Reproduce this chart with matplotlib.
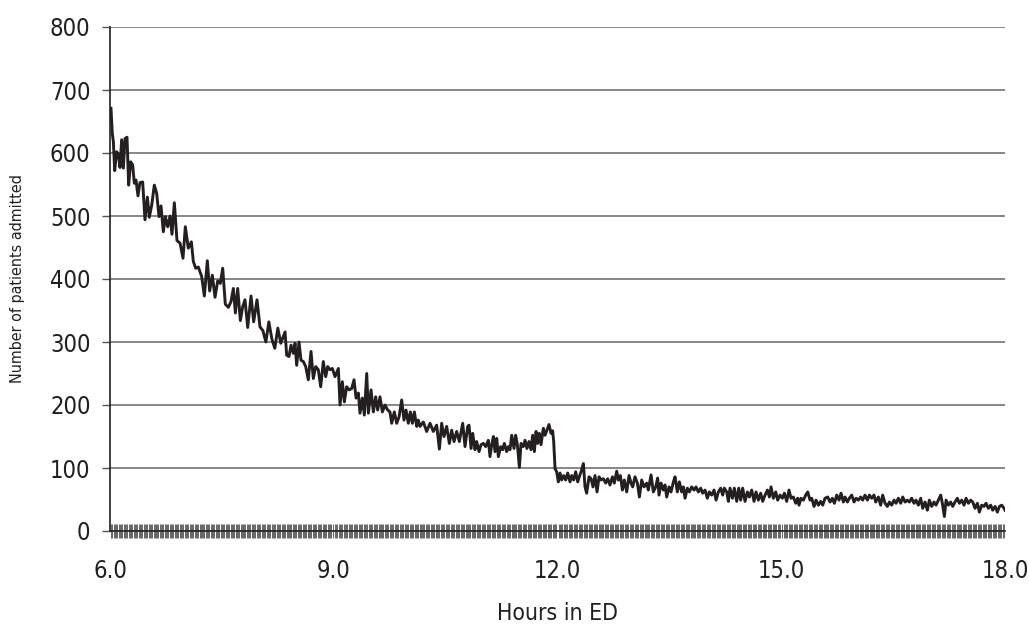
import numpy as np
import matplotlib
matplotlib.use("Agg")
import matplotlib.pyplot as plt
from matplotlib import font_manager

# ---- data (hours in ED, patients admitted) ----
hours_a = [6.013, 6.031, 6.045, 6.063, 6.089, 6.112, 6.134, 6.156, 6.179, 6.201,
           6.228, 6.250, 6.277, 6.304, 6.326, 6.349, 6.375, 6.402, 6.438, 6.469,
           6.501, 6.527, 6.559, 6.594, 6.626, 6.657, 6.684, 6.715, 6.742, 6.773,
           6.805, 6.831, 6.863, 6.898, 6.939, 6.979, 7.010, 7.050, 7.091, 7.117,
           7.149, 7.184, 7.229, 7.265, 7.305, 7.336, 7.372, 7.408, 7.444, 7.479,
           7.511, 7.546, 7.587, 7.622, 7.654, 7.681, 7.712, 7.748, 7.779, 7.810,
           7.846, 7.891, 7.926, 7.971, 8.011,
           8.05, 8.09, 8.13, 8.17, 8.21, 8.25, 8.29]
admitted_a = [671, 631, 618, 572, 602, 598, 577, 621, 576, 623,
              625, 549, 586, 581, 552, 557, 532, 553, 554, 494,
              530, 498, 517, 549, 536, 499, 516, 475, 499, 483,
              500, 471, 521, 461, 457, 433, 483, 449, 459, 428,
              417, 419, 404, 373, 429, 381, 406, 371, 397, 393,
              417, 360, 355, 364, 385, 346, 385, 334, 356, 367,
              323, 373, 332, 367, 324,
              318, 300, 332, 305, 290, 322, 298]

hours_b = [8.347, 8.369, 8.400, 8.427, 8.458, 8.481, 8.503, 8.534, 8.561, 8.592,
           8.624, 8.659, 8.695, 8.726, 8.758, 8.793, 8.825, 8.860, 8.892, 8.919,
           8.950, 8.981, 9.017, 9.062, 9.084, 9.115, 9.142, 9.173, 9.205, 9.240,
           9.272, 9.299, 9.330, 9.352, 9.383, 9.410, 9.442, 9.464, 9.500, 9.531,
           9.562, 9.589, 9.620, 9.652, 9.687, 9.723, 9.754, 9.777, 9.812, 9.844,
           9.875, 9.911, 9.942, 9.969, 10.000, 10.027, 10.054, 10.081, 10.112, 10.134,
           10.157, 10.201, 10.246, 10.291, 10.335, 10.380, 10.416, 10.447, 10.478, 10.514,
           10.550, 10.581, 10.613, 10.648, 10.684, 10.729]
admitted_b = [316, 279, 277, 295, 282, 298, 263, 300, 271, 269,
              261, 240, 285, 242, 261, 256, 229, 269, 245, 261,
              256, 258, 245, 258, 200, 237, 205, 229, 224, 226,
              240, 211, 219, 187, 211, 184, 250, 187, 224, 189,
              213, 192, 213, 189, 200, 192, 189, 171, 189, 171,
              181, 208, 176, 192, 171, 189, 171, 189, 166, 176,
              166, 173, 158, 171, 158, 168, 130, 171, 150, 166,
              139, 160, 142, 158, 142, 171]

hours_c = [10.760, 10.796, 10.814, 10.841, 10.863, 10.894, 10.916, 10.948, 10.975, 11.006,
           11.037, 11.073, 11.095, 11.118, 11.140, 11.162, 11.185, 11.207, 11.238, 11.265,
           11.287, 11.319, 11.341, 11.363, 11.386, 11.417, 11.439, 11.462, 11.489, 11.511,
           11.542, 11.565, 11.591, 11.618, 11.645, 11.667, 11.690, 11.712, 11.734, 11.757,
           11.779, 11.810, 11.833, 11.855, 11.886, 11.913, 11.935, 11.949, 11.967, 11.989,
           12.011, 12.034, 12.056, 12.083, 12.110, 12.137, 12.168, 12.190, 12.217, 12.244,
           12.271, 12.298, 12.324, 12.347, 12.369, 12.391, 12.423, 12.450, 12.476, 12.503,
           12.530, 12.557, 12.584, 12.615, 12.646, 12.673, 12.704, 12.736, 12.762, 12.794,
           12.816, 12.843, 12.870, 12.896, 12.928, 12.959, 12.986, 13.008, 13.039, 13.071,
           13.098, 13.129, 13.160, 13.196, 13.218]
admitted_c = [134, 166, 168, 131, 155, 129, 142, 126, 137, 139,
              134, 144, 118, 137, 150, 126, 147, 118, 134, 129,
              139, 126, 134, 129, 152, 131, 152, 137, 101, 139,
              134, 144, 131, 142, 129, 152, 126, 158, 139, 155,
              137, 163, 152, 159, 169, 155, 159, 142, 99, 94,
              78, 92, 81, 88, 81, 92, 78, 88, 81, 94,
              78, 88, 97, 107, 70, 60, 86, 83, 70, 88,
              62, 86, 81, 83, 76, 83, 73, 86, 76, 95,
              81, 88, 65, 81, 62, 88, 76, 70, 86, 76,
              54, 81, 70, 76, 65]

hours_d = [13.254, 13.285, 13.317, 13.343, 13.361, 13.388, 13.419, 13.442, 13.464, 13.495,
           13.522, 13.554, 13.576, 13.607, 13.634, 13.665, 13.688, 13.710, 13.741, 13.768,
           13.799, 13.831, 13.857, 13.889, 13.920, 13.947, 13.978, 14.009, 14.036, 14.067,
           14.099, 14.126, 14.157, 14.188, 14.215, 14.237, 14.269, 14.291, 14.313, 14.345,
           14.371, 14.403, 14.430, 14.456, 14.483, 14.514, 14.546, 14.573, 14.604, 14.635,
           14.662, 14.693, 14.724, 14.751, 14.783, 14.814, 14.841, 14.863, 14.894, 14.926,
           14.952, 14.984, 15.015, 15.042, 15.073, 15.104, 15.131, 15.162, 15.194, 15.221,
           15.238, 15.265, 15.297, 15.328, 15.355, 15.386, 15.408, 15.440, 15.466, 15.498,
           15.529, 15.556, 15.587]
admitted_d = [89, 62, 70, 84, 57, 76, 65, 73, 54, 70,
              62, 78, 86, 62, 78, 62, 70, 52, 68, 62,
              70, 65, 70, 62, 68, 60, 65, 52, 62, 57,
              65, 49, 62, 68, 57, 68, 62, 47, 68, 52,
              68, 47, 68, 49, 68, 47, 62, 54, 65, 47,
              62, 49, 60, 47, 57, 65, 54, 70, 52, 62,
              49, 57, 52, 60, 47, 65, 52, 54, 44, 52,
              41, 52, 49, 57, 62, 49, 52, 39, 49, 41,
              47, 41, 52]

hours_e = [15.623, 15.654, 15.685, 15.712, 15.744, 15.775, 15.802, 15.833, 15.855, 15.887,
           15.913, 15.945, 15.976, 16.003, 16.034, 16.065, 16.092, 16.123, 16.155, 16.182,
           16.213, 16.244, 16.266, 16.302, 16.333, 16.360, 16.392, 16.423, 16.450, 16.481,
           16.512, 16.539, 16.570, 16.602, 16.629, 16.660, 16.691, 16.718, 16.749, 16.780,
           16.807, 16.839, 16.870, 16.897, 16.928, 16.959, 16.986, 17.017, 17.049, 17.075,
           17.107, 17.138, 17.160, 17.187, 17.210, 17.241, 17.272, 17.299, 17.330, 17.361,
           17.388, 17.420, 17.451, 17.478, 17.509, 17.540, 17.567, 17.598, 17.630, 17.656,
           17.688, 17.719, 17.746, 17.777, 17.808, 17.835, 17.867, 17.898, 17.925, 17.956,
           17.987, 18.000]
admitted_e = [54, 46, 52, 44, 57, 49, 60, 46, 54, 46,
              52, 57, 46, 52, 49, 54, 49, 57, 49, 57,
              52, 57, 46, 54, 41, 57, 44, 39, 46, 41,
              49, 44, 52, 44, 54, 46, 49, 46, 52, 44,
              49, 41, 52, 36, 46, 33, 49, 39, 46, 41,
              49, 57, 44, 23, 49, 41, 46, 39, 46, 52,
              44, 49, 41, 52, 44, 49, 46, 36, 44, 30,
              41, 39, 44, 36, 41, 33, 39, 30, 39, 41,
              36, 33]

x_tick_values = [6.0, 9.0, 12.0, 15.0, 18.0]
x_tick_labels = ["6.0", "9.0", "12.0", "15.0", "18.0"]
y_tick_values = [0, 100, 200, 300, 400, 500, 600, 700, 800]
x_label = "Hours in ED"
y_label = "Number of patients admitted"

hours = hours_a + hours_b + hours_c + hours_d + hours_e
admitted = admitted_a + admitted_b + admitted_c + admitted_d + admitted_e
assert len(hours) == len(admitted)

# ---- fonts: prefer a condensed sans if one is installed ----
condensed = [f for f in font_manager.fontManager.ttflist
             if f.name == "DejaVu Sans" and str(f.stretch) in ("condensed", "semi-condensed")
             and f.weight in (400, "normal", "regular") and f.style == "normal"]
if condensed:
    def fp(size):
        return font_manager.FontProperties(fname=condensed[0].fname, size=size)
    tick_fp, xlab_fp, ylab_fp = fp(17), fp(16.5), fp(11.5)
else:
    def fp(size):
        return font_manager.FontProperties(family=["Liberation Sans", "DejaVu Sans"], size=size)
    tick_fp, xlab_fp, ylab_fp = fp(16.5), fp(16), fp(12)

# ---- figure ----
ink = "#231f20"
fig = plt.figure(figsize=(10.29, 6.27), dpi=100)
ax = fig.add_axes([110 / 1029, 1 - 531 / 627, 895 / 1029, 504 / 627])

ax.plot(hours, admitted, color=ink, lw=2.1, solid_joinstyle="round", zorder=3)

ax.set_xlim(6.0, 18.0)
ax.set_ylim(0, 800)

ax.set_yticks(y_tick_values)
ax.yaxis.grid(True, color="#737373", lw=1.2)
ax.set_axisbelow(True)

ax.set_xticks(x_tick_values)
ax.set_xticklabels(x_tick_labels)
ax.set_xticks(np.arange(6 * 60, 18 * 60 + 1) / 60.0, minor=True)

for s in ("top", "right"):
    ax.spines[s].set_visible(False)
for s in ("left", "bottom"):
    ax.spines[s].set_color(ink)
    ax.spines[s].set_linewidth(1.2)

ax.tick_params(axis="y", which="major", direction="out", length=6, width=1.0,
               color="#555555", pad=8, labelcolor=ink)
ax.tick_params(axis="x", which="major", length=0, pad=20, labelcolor=ink)
ax.tick_params(axis="x", which="minor", direction="inout", length=10, width=0.6,
               color="#4d4d4d")
for lab in ax.get_xticklabels() + ax.get_yticklabels():
    lab.set_fontproperties(tick_fp)

ax.set_xlabel(x_label, fontproperties=xlab_fp, color=ink)
ax.xaxis.set_label_coords(0.5, -0.163)
ax.xaxis.label.set_va("center")

ax.set_ylabel(y_label, fontproperties=ylab_fp, color=ink)
ax.yaxis.set_label_coords(-0.103, 0.5)
ax.yaxis.label.set_va("center")

fig.savefig("out.png", dpi=100, facecolor="white")
